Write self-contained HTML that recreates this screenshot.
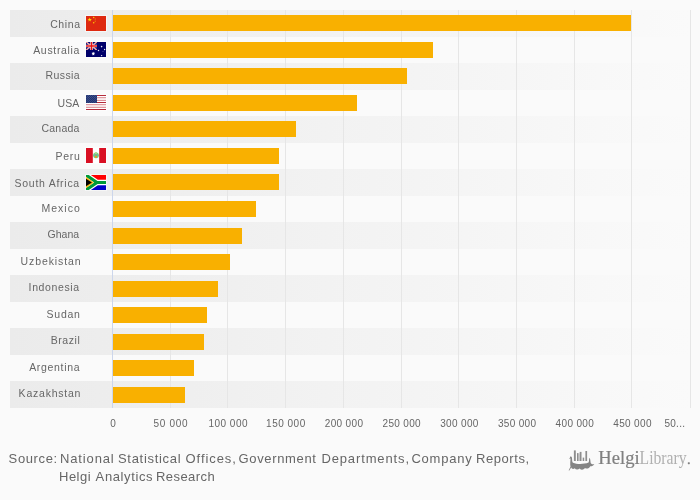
<!DOCTYPE html>
<html><head><meta charset="utf-8"><title>Chart</title>
<style>
html,body{margin:0;padding:0;background:#fafafa;}
body{width:700px;height:500px;overflow:hidden;position:relative;font-family:"Liberation Sans",sans-serif;}
svg{position:absolute;left:0;top:0;filter:opacity(0.999);}
text{font-family:"Liberation Sans",sans-serif;}
.cat{font-size:10.5px;fill:#666;}
.xl{font-size:10px;fill:#666;}
.src{font-size:13px;fill:#666;}
</style></head><body>
<svg width="700" height="500" viewBox="0 0 700 500">
<defs>
<linearGradient id="bg" x1="0" y1="0" x2="1" y2="0">
<stop offset="0" stop-color="#ebebeb"/><stop offset="1" stop-color="#fafafa"/>
</linearGradient>
</defs>
<rect x="0" y="0" width="700" height="500" fill="#fafafa"/>

<rect x="10" y="10" width="680" height="27" fill="url(#bg)"/>
<rect x="10" y="63" width="680" height="27" fill="url(#bg)"/>
<rect x="10" y="116" width="680" height="27" fill="url(#bg)"/>
<rect x="10" y="169" width="680" height="27" fill="url(#bg)"/>
<rect x="10" y="222" width="680" height="27" fill="url(#bg)"/>
<rect x="10" y="275" width="680" height="27" fill="url(#bg)"/>
<rect x="10" y="328" width="680" height="27" fill="url(#bg)"/>
<rect x="10" y="381" width="680" height="27" fill="url(#bg)"/>
<rect x="170" y="10" width="1" height="398" fill="#e6e6e6"/>
<rect x="227" y="10" width="1" height="398" fill="#e6e6e6"/>
<rect x="285" y="10" width="1" height="398" fill="#e6e6e6"/>
<rect x="343" y="10" width="1" height="398" fill="#e6e6e6"/>
<rect x="401" y="10" width="1" height="398" fill="#e6e6e6"/>
<rect x="458" y="10" width="1" height="398" fill="#e6e6e6"/>
<rect x="516" y="10" width="1" height="398" fill="#e6e6e6"/>
<rect x="574" y="10" width="1" height="398" fill="#e6e6e6"/>
<rect x="631" y="10" width="1" height="398" fill="#e6e6e6"/>
<rect x="690" y="10" width="1" height="398" fill="#e6e6e6"/>
<rect x="113" y="15" width="518" height="16" fill="#f9b000"/>
<rect x="113" y="42" width="320" height="16" fill="#f9b000"/>
<rect x="113" y="68" width="294" height="16" fill="#f9b000"/>
<rect x="113" y="95" width="244" height="16" fill="#f9b000"/>
<rect x="113" y="121" width="183" height="16" fill="#f9b000"/>
<rect x="113" y="148" width="166" height="16" fill="#f9b000"/>
<rect x="113" y="174" width="166" height="16" fill="#f9b000"/>
<rect x="113" y="201" width="143" height="16" fill="#f9b000"/>
<rect x="113" y="228" width="129" height="16" fill="#f9b000"/>
<rect x="113" y="254" width="117" height="16" fill="#f9b000"/>
<rect x="113" y="281" width="105" height="16" fill="#f9b000"/>
<rect x="113" y="307" width="94" height="16" fill="#f9b000"/>
<rect x="113" y="334" width="91" height="16" fill="#f9b000"/>
<rect x="113" y="360" width="81" height="16" fill="#f9b000"/>
<rect x="113" y="387" width="72" height="16" fill="#f9b000"/>
<rect x="112" y="10" width="1" height="398" fill="#ccd6eb"/>
<text class="cat" x="50.20" y="28" style="letter-spacing:0.600px">China</text>
<text class="cat" x="33.20" y="54" style="letter-spacing:0.675px">Australia</text>
<text class="cat" x="45.60" y="79" style="letter-spacing:0.400px">Russia</text>
<text class="cat" x="57.60" y="107" style="letter-spacing:-0.000px">USA</text>
<text class="cat" x="41.50" y="132" style="letter-spacing:0.220px">Canada</text>
<text class="cat" x="55.60" y="160" style="letter-spacing:0.667px">Peru</text>
<text class="cat" x="14.50" y="187" style="letter-spacing:0.736px">South Africa</text>
<text class="cat" x="41.40" y="212" style="letter-spacing:1.040px">Mexico</text>
<text class="cat" x="47.50" y="238" style="letter-spacing:0.025px">Ghana</text>
<text class="cat" x="20.60" y="265" style="letter-spacing:0.889px">Uzbekistan</text>
<text class="cat" x="28.60" y="291" style="letter-spacing:0.625px">Indonesia</text>
<text class="cat" x="46.60" y="318" style="letter-spacing:0.750px">Sudan</text>
<text class="cat" x="50.70" y="344" style="letter-spacing:0.580px">Brazil</text>
<text class="cat" x="29.20" y="371" style="letter-spacing:0.675px">Argentina</text>
<text class="cat" x="18.60" y="397" style="letter-spacing:0.778px">Kazakhstan</text>
<text class="xl" x="110.20" y="427" style="letter-spacing:0.000px">0</text>
<text class="xl" x="153.50" y="427" style="letter-spacing:0.680px">50 000</text>
<text class="xl" x="208.40" y="427" style="letter-spacing:0.500px">100 000</text>
<text class="xl" x="266.10" y="427" style="letter-spacing:0.500px">150 000</text>
<text class="xl" x="324.80" y="427" style="letter-spacing:0.333px">200 000</text>
<text class="xl" x="382.50" y="427" style="letter-spacing:0.333px">250 000</text>
<text class="xl" x="440.20" y="427" style="letter-spacing:0.333px">300 000</text>
<text class="xl" x="497.90" y="427" style="letter-spacing:0.333px">350 000</text>
<text class="xl" x="555.60" y="427" style="letter-spacing:0.333px">400 000</text>
<text class="xl" x="613.30" y="427" style="letter-spacing:0.333px">450 000</text>
<text class="xl" x="664.40" y="427" style="letter-spacing:0.300px">50...</text>
<text class="src" x="8.60" y="463" style="letter-spacing:0.633px">Source:</text>
<text class="src" x="60.00" y="463" style="letter-spacing:0.857px">National</text>
<text class="src" x="118.00" y="463" style="letter-spacing:0.700px">Statistical</text>
<text class="src" x="185.60" y="463" style="letter-spacing:0.914px">Offices,</text>
<text class="src" x="238.60" y="463" style="letter-spacing:0.644px">Government</text>
<text class="src" x="321.40" y="463" style="letter-spacing:0.873px">Departments,</text>
<text class="src" x="411.40" y="463" style="letter-spacing:0.767px">Company</text>
<text class="src" x="476.00" y="463" style="letter-spacing:0.571px">Reports,</text>
<text class="src" x="59.00" y="480.5" style="letter-spacing:0.500px">Helgi</text>
<text class="src" x="95.60" y="480.5" style="letter-spacing:0.625px">Analytics</text>
<text class="src" x="156.00" y="480.5" style="letter-spacing:0.429px">Research</text>
<defs><clipPath id="fc"><rect x="0" y="0" width="20" height="15"/></clipPath><clipPath id="uj"><rect x="0" y="0" width="11" height="8"/></clipPath></defs>
<g transform="translate(86,16)"><rect x="-1" y="-1" width="22" height="17" fill="#ffffff" opacity="0.5"/><g clip-path="url(#fc)"><rect width="20" height="15" fill="#de2910"/><polygon points="3.70,1.40 4.22,2.99 5.89,2.99 4.54,3.97 5.05,5.56 3.70,4.58 2.35,5.56 2.86,3.97 1.51,2.99 3.18,2.99" fill="#ffde00"/><circle cx="7.7" cy="1.5" r="0.75" fill="#ffd800" opacity="0.95"/><circle cx="9.3" cy="3.0" r="0.75" fill="#f08a10" opacity="0.7"/><circle cx="9.3" cy="5.3" r="0.75" fill="#f08a10" opacity="0.7"/><circle cx="7.7" cy="6.8" r="0.75" fill="#ffd800" opacity="0.95"/></g></g>
<g transform="translate(86,42)"><rect x="-1" y="-1" width="22" height="17" fill="#ffffff" opacity="0.5"/><g clip-path="url(#fc)"><rect width="20" height="15" fill="#00006a"/><g clip-path="url(#uj)"><rect width="11" height="8" fill="#00006a"/><path d="M0,0L11,8M11,0L0,8" stroke="#fff" stroke-width="1.4"/><path d="M0,0L11,8M11,0L0,8" stroke="#e81010" stroke-width="0.55"/><path d="M5.5,0V8M0,4H11" stroke="#fff" stroke-width="2.5"/><path d="M5.5,0V8M0,4H11" stroke="#e81010" stroke-width="1.5"/></g><polygon points="7.30,9.80 7.73,10.80 8.79,10.52 8.27,11.48 9.15,12.12 8.08,12.32 8.12,13.41 7.30,12.70 6.48,13.41 6.52,12.32 5.45,12.12 6.33,11.48 5.81,10.52 6.87,10.80" fill="#fff"/><circle cx="15.6" cy="4.6" r="0.8" fill="#fff" opacity="0.9"/><circle cx="18.6" cy="7.5" r="0.72" fill="#fff" opacity="0.9"/><circle cx="12.5" cy="8.5" r="0.72" fill="#fff" opacity="0.9"/><circle cx="15.6" cy="13.6" r="0.72" fill="#fff" opacity="0.9"/><circle cx="17.0" cy="9.6" r="0.35" fill="#fff" opacity="0.9"/></g></g>
<g transform="translate(86,95)"><rect x="-1" y="-1" width="22" height="17" fill="#ffffff" opacity="0.5"/><g clip-path="url(#fc)"><rect width="20" height="15" fill="#fff"/><rect x="0" y="0" width="20" height="1" fill="#b52b3b"/><rect x="0" y="2" width="20" height="1" fill="#de9ca3"/><rect x="0" y="3" width="20" height="1" fill="#f6e0e2"/><rect x="0" y="4" width="20" height="1" fill="#f9eaeb"/><rect x="0" y="5" width="20" height="1" fill="#dd919a"/><rect x="0" y="7" width="20" height="1" fill="#b52b3b"/><rect x="0" y="9" width="20" height="1" fill="#de9ca3"/><rect x="0" y="10" width="20" height="1" fill="#f6e0e2"/><rect x="0" y="11" width="20" height="1" fill="#f6e0e2"/><rect x="0" y="12" width="20" height="1" fill="#de9ca3"/><rect x="0" y="14" width="20" height="1" fill="#b52b3b"/><rect x="0" y="0" width="11" height="8" fill="#1f3272"/><circle cx="0.90" cy="0.60" r="0.33" fill="#8f9bc0"/><circle cx="2.75" cy="0.60" r="0.33" fill="#8f9bc0"/><circle cx="4.60" cy="0.60" r="0.33" fill="#8f9bc0"/><circle cx="6.45" cy="0.60" r="0.33" fill="#8f9bc0"/><circle cx="8.30" cy="0.60" r="0.33" fill="#8f9bc0"/><circle cx="10.15" cy="0.60" r="0.33" fill="#8f9bc0"/><circle cx="1.82" cy="1.58" r="0.33" fill="#8f9bc0"/><circle cx="3.67" cy="1.58" r="0.33" fill="#8f9bc0"/><circle cx="5.52" cy="1.58" r="0.33" fill="#8f9bc0"/><circle cx="7.37" cy="1.58" r="0.33" fill="#8f9bc0"/><circle cx="9.22" cy="1.58" r="0.33" fill="#8f9bc0"/><circle cx="0.90" cy="2.56" r="0.33" fill="#8f9bc0"/><circle cx="2.75" cy="2.56" r="0.33" fill="#8f9bc0"/><circle cx="4.60" cy="2.56" r="0.33" fill="#8f9bc0"/><circle cx="6.45" cy="2.56" r="0.33" fill="#8f9bc0"/><circle cx="8.30" cy="2.56" r="0.33" fill="#8f9bc0"/><circle cx="10.15" cy="2.56" r="0.33" fill="#8f9bc0"/><circle cx="1.82" cy="3.54" r="0.33" fill="#8f9bc0"/><circle cx="3.67" cy="3.54" r="0.33" fill="#8f9bc0"/><circle cx="5.52" cy="3.54" r="0.33" fill="#8f9bc0"/><circle cx="7.37" cy="3.54" r="0.33" fill="#8f9bc0"/><circle cx="9.22" cy="3.54" r="0.33" fill="#8f9bc0"/><circle cx="0.90" cy="4.52" r="0.33" fill="#8f9bc0"/><circle cx="2.75" cy="4.52" r="0.33" fill="#8f9bc0"/><circle cx="4.60" cy="4.52" r="0.33" fill="#8f9bc0"/><circle cx="6.45" cy="4.52" r="0.33" fill="#8f9bc0"/><circle cx="8.30" cy="4.52" r="0.33" fill="#8f9bc0"/><circle cx="10.15" cy="4.52" r="0.33" fill="#8f9bc0"/><circle cx="1.82" cy="5.50" r="0.33" fill="#8f9bc0"/><circle cx="3.67" cy="5.50" r="0.33" fill="#8f9bc0"/><circle cx="5.52" cy="5.50" r="0.33" fill="#8f9bc0"/><circle cx="7.37" cy="5.50" r="0.33" fill="#8f9bc0"/><circle cx="9.22" cy="5.50" r="0.33" fill="#8f9bc0"/><circle cx="0.90" cy="6.48" r="0.33" fill="#8f9bc0"/><circle cx="2.75" cy="6.48" r="0.33" fill="#8f9bc0"/><circle cx="4.60" cy="6.48" r="0.33" fill="#8f9bc0"/><circle cx="6.45" cy="6.48" r="0.33" fill="#8f9bc0"/><circle cx="8.30" cy="6.48" r="0.33" fill="#8f9bc0"/><circle cx="10.15" cy="6.48" r="0.33" fill="#8f9bc0"/><circle cx="1.82" cy="7.46" r="0.33" fill="#8f9bc0"/><circle cx="3.67" cy="7.46" r="0.33" fill="#8f9bc0"/><circle cx="5.52" cy="7.46" r="0.33" fill="#8f9bc0"/><circle cx="7.37" cy="7.46" r="0.33" fill="#8f9bc0"/><circle cx="9.22" cy="7.46" r="0.33" fill="#8f9bc0"/></g></g>
<g transform="translate(86,148)"><rect x="-1" y="-1" width="22" height="17" fill="#ffffff" opacity="0.5"/><g clip-path="url(#fc)"><rect width="20" height="15" fill="#fff"/><rect x="0" y="0" width="6.8" height="15" fill="#d91023"/><rect x="13.2" y="0" width="6.8" height="15" fill="#d91023"/><circle cx="10" cy="7.3" r="2.9" fill="#5fc27a" opacity="0.9"/><circle cx="10" cy="5.3" r="1.2" fill="#a6dd8a" opacity="0.9"/><rect x="9" y="6.2" width="2" height="1.6" fill="#7f9ab0" opacity="0.8"/><circle cx="10" cy="8.8" r="1.1" fill="#f39a1a"/></g></g>
<g transform="translate(86,175)"><rect x="-1" y="-1" width="22" height="17" fill="#ffffff" opacity="0.5"/><g clip-path="url(#fc)"><rect width="20" height="15" fill="#fff"/><rect x="0" y="0" width="20" height="7.5" fill="#ff0000"/><rect x="0" y="7.5" width="20" height="7.5" fill="#0000c8"/><path d="M-2.2,-1.5L11,7.5H21M-2.2,16.5L11,7.5" fill="none" stroke="#fff" stroke-width="5.5"/><path d="M-2.2,-1.5L11,7.5H21M-2.2,16.5L11,7.5" fill="none" stroke="#009a38" stroke-width="3.1"/><path d="M0,2.1L7.9,7.5L0,12.9Z" fill="#fcb514"/><path d="M0,3.7L5.9,7.5L0,11.3Z" fill="#000"/></g></g>
<g fill="#848484"><rect x="573.9" y="450.4" width="1.9" height="10.6" opacity="0.92"/><rect x="577.0" y="453.1" width="1.5" height="7.9" opacity="0.92"/><rect x="579.7" y="451.9" width="1.8" height="9.1" opacity="0.92"/><rect x="582.7" y="457.6" width="1.5" height="3.4" opacity="0.92"/><rect x="585.4" y="451.0" width="1.7" height="10.0" opacity="0.92"/><rect x="578.5" y="453.5" width="1.2" height="7.5" opacity="0.35"/><path d="M570.0,457.7 C569.5,456.3 571.7,455.9 571.9,457.4 C572.3,459.5 571.9,461.8 573.0,462.8 C577,464.6 584,464.4 588.6,462.6 C589.3,461.4 588.8,459.4 589.4,457.7 C590.5,458.5 590.3,461.3 590.7,463.0 C591.7,464.5 593.0,464.4 594.3,463.9 C593.7,465.7 591.6,466.4 590.3,466.3 C589.2,468.6 586.6,469.2 585.0,468.0 C583.4,470.1 581.0,470.2 579.7,468.4 C578.0,470.0 575.9,469.8 574.7,468.3 C573.3,469.4 571.7,468.9 571.2,467.6 L569.1,470.8 L568.7,470.3 L570.5,466.7 C569.9,464.5 570.5,460.5 570.5,458.5 L568.9,458.7 Z"/></g>
<text x="598.3" y="464" style="font-family:'Liberation Serif',serif;font-size:18px;fill:#808080;stroke:#808080;stroke-width:0.2px;" textLength="41.3" lengthAdjust="spacingAndGlyphs">Helgi</text>
<text x="639.6" y="464" style="font-family:'Liberation Serif',serif;font-size:18px;fill:#b0b0b0;" textLength="47" lengthAdjust="spacingAndGlyphs">Library</text>
<rect x="687.8" y="462.2" width="2" height="2" rx="0.6" fill="#808080"/>
</svg></body></html>
